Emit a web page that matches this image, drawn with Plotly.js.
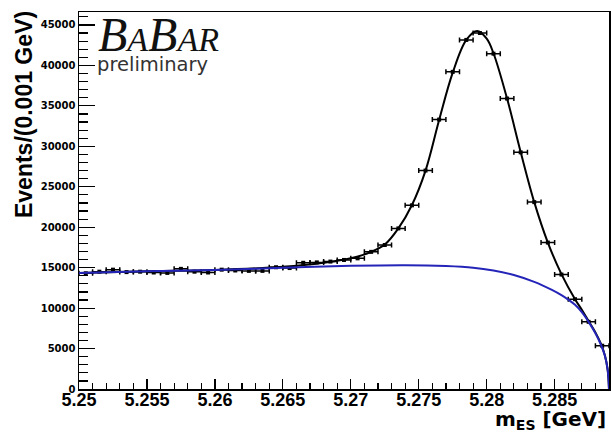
<!DOCTYPE html>
<html>
<head>
<meta charset="utf-8">
<script src="https://cdn.plot.ly/plotly-3.0.1.min.js"></script>
<style>
  html, body { margin: 0; padding: 0; background: #ffffff; }
  #chart { width: 611px; height: 432px; }
</style>
</head>
<body>
<div id="chart"></div>
<script>
// m_ES bin centres (0.001 GeV bins) and event counts per bin
const binCenters = [5.2505, 5.2515, 5.2525, 5.2535, 5.2545, 5.2555, 5.2565, 5.2575, 5.2585, 5.2595,
                    5.2605, 5.2615, 5.2625, 5.2635, 5.2645, 5.2655, 5.2665, 5.2675, 5.2685, 5.2695,
                    5.2705, 5.2715, 5.2725, 5.2735, 5.2745, 5.2755, 5.2765, 5.2775, 5.2785, 5.2795,
                    5.2805, 5.2815, 5.2825, 5.2835, 5.2845, 5.2855, 5.2865, 5.2875, 5.2885];
const events = [14300, 14500, 14750, 14450, 14500, 14400, 14350, 14850, 14500, 14400,
                14750, 14650, 14600, 14600, 15050, 14950, 15600, 15650, 15750, 15950,
                16150, 16950, 17800, 19850, 22700, 27000, 33300, 39200, 43150, 44000,
                41450, 35900, 29250, 23100, 18100, 14150, 11100, 8300, 5350];

// total fit (signal + background)
const fitMass = [5.2500, 5.2550, 5.2600, 5.2650, 5.2680, 5.2700, 5.2715, 5.2725, 5.2735, 5.2745,
                 5.2755, 5.2765, 5.2775, 5.2785, 5.2793, 5.2800, 5.2805, 5.2815, 5.2825, 5.2835,
                 5.2845, 5.2855, 5.2865, 5.2870, 5.2875, 5.2880, 5.2884, 5.2887, 5.2889, 5.2890];
const fitTotal = [14350, 14550, 14720, 15100, 15600, 16150, 16950, 17850, 19850, 22750,
                  27000, 33250, 39100, 43150, 44250, 43300, 41500, 35900, 29300, 23100,
                  18100, 14200, 11100, 9800, 8400, 7000, 5600, 4150, 2400, 0];

// ARGUS background component
const bkgMass = [5.2500, 5.2550, 5.2600, 5.2650, 5.2700, 5.2740, 5.2770, 5.2790, 5.2805, 5.2820,
                 5.2835, 5.2848, 5.2855, 5.2860, 5.2865, 5.2870, 5.2875, 5.2880, 5.2884, 5.2887,
                 5.2889, 5.2890];
const bkgValues = [14350, 14550, 14720, 14980, 15220, 15300, 15200, 15000, 14650, 14100,
                   13250, 12250, 11600, 11050, 10400, 9500, 8300, 6900, 5500, 4100,
                   2400, 0];

const traces = [
  {
    x: fitMass, y: fitTotal, type: 'scatter', mode: 'lines',
    line: { color: '#000000', width: 2, shape: 'spline', smoothing: 1 },
    hoverinfo: 'skip'
  },
  {
    x: binCenters, y: events, type: 'scatter', mode: 'markers',
    marker: { color: '#000000', size: 4, symbol: 'square' },
    error_x: { type: 'constant', value: 0.0005, color: '#000000', thickness: 1.5, width: 2.5 },
    error_y: { type: 'sqrt', color: '#000000', thickness: 1.5, width: 0 }
  },
  {
    x: bkgMass, y: bkgValues, type: 'scatter', mode: 'lines',
    line: { color: '#2424b8', width: 2, shape: 'spline', smoothing: 1 },
    hoverinfo: 'skip'
  }
];

const layout = {
  width: 611, height: 432,
  margin: { l: 79, r: 2, t: 12, b: 43 },
  paper_bgcolor: '#ffffff', plot_bgcolor: '#ffffff',
  showlegend: false,
  xaxis: {
    range: [5.25, 5.289], tick0: 5.25, dtick: 0.005,
    ticks: 'inside', ticklen: 10, tickwidth: 1.2, tickcolor: '#000',
    ticklabelstandoff: -6,
    showline: true, linecolor: '#000', linewidth: 1.5, mirror: true,
    showgrid: false, zeroline: false,
    tickfont: { family: 'Liberation Sans, Arial, sans-serif', size: 18, color: '#000', weight: 'bold' },
    minor: { tick0: 5.25, dtick: 0.001, ticks: 'inside', ticklen: 6, tickcolor: '#000', tickwidth: 1.2 }
  },
  yaxis: {
    range: [0, 46600], tick0: 0, dtick: 5000, tickformat: 'd',
    ticks: 'inside', ticklen: 16, tickwidth: 1.2, tickcolor: '#000',
    showline: true, linecolor: '#000', linewidth: 1.5, mirror: true,
    showgrid: false, zeroline: false,
    tickfont: { family: 'DejaVu Sans, sans-serif', size: 10, color: '#000', weight: 'bold' },
    minor: { tick0: 0, dtick: 1000, ticks: 'inside', ticklen: 9, tickcolor: '#000', tickwidth: 1.2 }
  },
  annotations: [
    {
      xref: 'paper', yref: 'paper', x: -0.104, y: 0.729,
      xanchor: 'center', yanchor: 'middle', textangle: -90, showarrow: false,
      text: 'Events/(0.001 GeV)',
      font: { family: 'Liberation Sans, Arial, sans-serif', size: 23, color: '#000', weight: 'bold' }
    },
    {
      xref: 'paper', yref: 'paper', x: 0.999, y: -0.083,
      xanchor: 'right', yanchor: 'middle', showarrow: false,
      text: 'm<sub>ES</sub> [GeV]',
      font: { family: 'DejaVu Sans, sans-serif', size: 20, color: '#000', weight: 'bold' }
    },
    {
      xref: 'paper', yref: 'paper', x: 0.033, y: 0.94,
      xanchor: 'left', yanchor: 'middle', showarrow: false,
      text: "<i>B<span style='font-size:34px'>A</span>B<span style='font-size:34px'>AR</span></i>",
      font: { family: 'Liberation Serif, Times New Roman, serif', size: 48, color: '#111111' }
    },
    {
      xref: 'paper', yref: 'paper', x: 0.031, y: 0.862,
      xanchor: 'left', yanchor: 'middle', showarrow: false,
      text: 'preliminary',
      font: { family: 'DejaVu Sans, sans-serif', size: 19.5, color: '#333333' }
    }
  ]
};

Plotly.newPlot('chart', traces, layout, { staticPlot: true, displayModeBar: false });
</script>
</body>
</html>
